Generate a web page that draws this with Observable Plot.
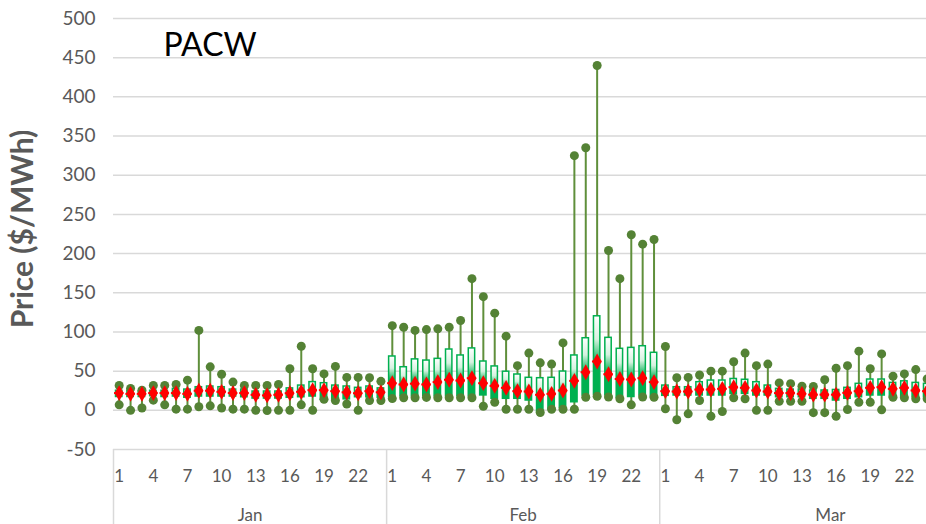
<!DOCTYPE html>
<html><head><meta charset="utf-8">
<script src="https://cdn.jsdelivr.net/npm/d3@7"></script>
<script src="https://cdn.jsdelivr.net/npm/@observablehq/plot@0.6"></script>
<style>
html,body{margin:0;padding:0;background:#fff;overflow:hidden;width:926px;height:524px;}
#chart{position:relative;width:926px;height:524px;overflow:hidden;}
</style></head><body><div id="chart"></div>
<script>
// Categories
const months = ["Jan", "Feb", "Mar"];
const monthDays = [24, 24, 31];          // categories on the axis per month
const tickDays = [1, 4, 7, 10, 13, 16, 19, 22, 25, 28, 31];
const yTicks = [-50, 0, 50, 100, 150, 200, 250, 300, 350, 400, 450, 500];

// Jan
const janMin  = [7, 0, 3, 13, 7, 1.5, 1.5, 4.5, 5.7, 3, 1.5, 1.5, 0, -0.3, 0, 0, 7, 0, 14, 12.5, 8, 0, 12.5, 12.5];
const janQ1   = [17, 17, 17, 18, 17, 17.6, 16, 17.6, 17.6, 17.6, 17.6, 16.7, 15, 15, 15, 16, 16.7, 17.6, 13.4, 12.5, 14, 16.7, 16.7, 16];
const janMean = [22, 21, 21, 22, 22, 22, 21, 25, 25, 23.6, 22, 22, 19.8, 19, 19.8, 21.8, 23.6, 25.7, 25.7, 24.4, 23, 21.8, 24.4, 23];
const janQ3   = [25, 25, 24, 25, 25, 27.4, 26.5, 29.5, 30.4, 29.5, 26.5, 26.5, 24, 24, 24, 28, 31.6, 36, 34.6, 31.6, 30.4, 28.7, 30.4, 28];
const janMax  = [31.6, 28, 25.7, 31.6, 31.6, 33, 38.5, 102, 55.5, 46, 36, 31.6, 31.6, 31.6, 33, 53, 81.8, 53, 46.5, 56, 42, 42, 41.5, 37];

// Feb
const febMin  = [15, 16, 16, 16.5, 16, 16, 16, 16, 5.2, 10.3, 1.4, 1.4, 1.4, -2.8, 1.4, 1.4, 1.4, 16.7, 18, 17, 14.7, 7, 17, 16.7];
const febQ1   = [17, 18, 18, 18, 18, 18, 18, 18, 19, 14.7, 14.7, 14.7, 12.5, -2.4, 1.9, 3, 10.3, 19, 20, 19, 16, 17, 19, 17.6];
const febMean = [34.6, 33, 34, 33, 36, 39, 38, 41, 34.6, 31.2, 28.7, 24.4, 24, 19.8, 21, 25.3, 37.6, 48.6, 62.3, 46, 40, 39.3, 41, 36];
const febQ3   = [68.7, 55, 65, 63.5, 65.7, 77.6, 70, 79, 62.3, 56, 49.3, 45.7, 41.5, 41, 41.5, 49.5, 70, 92, 120, 92.5, 78.5, 79.7, 81.8, 73.4];
const febMax  = [108, 106, 102, 103, 104, 106, 114.6, 168, 145, 124, 94.6, 57, 73, 60.6, 59, 86, 325, 335, 440, 204, 168, 224, 212, 218];

// Mar
const marMin  = [2, -12, -4.5, 12.5, -7.5, -1.5, 16, 14.7, 0, 0, 11.6, 11.6, 11.6, -3, -3, -7.5, 1, 10.3, 10.3, 0.6, 16.7, 16, 14.7, 14.7];
const marQ1   = [18.5, 18.9, 18.9, 18.9, 18.9, 18.9, 21, 21, 18.9, 18.9, 16.7, 16.7, 16.7, 14.7, 14.7, 12.5, 14.7, 16.7, 18.9, 18.9, 16.7, 16.7, 16.7, 16.7];
const marMean = [24.4, 24, 24, 26.5, 26.5, 27.4, 29.5, 28.7, 25.3, 24, 22, 22, 21, 20, 20, 20, 22.3, 24.4, 28.7, 29.5, 27.4, 28.7, 25.3, 24.4];
const marQ3   = [31.6, 29.5, 29.5, 35.9, 38, 38, 40, 39, 35.9, 31.6, 27.4, 26.5, 26.5, 25.3, 25.3, 26, 28.7, 33.8, 39.3, 39.3, 35, 37, 35, 33.8];
const marMax  = [81.4, 41.5, 42, 45, 50, 50, 62, 73, 57, 59, 35, 34, 30.8, 30.5, 39, 53.7, 57, 75.5, 53, 72, 43.5, 46.5, 52, 40];

const series = [
  [janMin, janQ1, janMean, janQ3, janMax],
  [febMin, febQ1, febMean, febQ3, febMax],
  [marMin, marQ1, marMean, marQ3, marMax]
];

// Build category keys and table
const keys = [];
months.forEach((m, i) => { for (let d = 1; d <= monthDays[i]; d++) keys.push(`${m}-${d}`); });
const rows = [];
months.forEach((m, i) => {
  const [mn, q1, me, q3, mx] = series[i];
  mn.forEach((_, j) => rows.push({key: `${m}-${j + 1}`, min: mn[j], q1: q1[j], mean: me[j], q3: q3[j], max: mx[j]}));
});
const tickKeys = keys.filter(k => tickDays.includes(+k.split("-")[1]));
const firstKeys = months.map(m => `${m}-1`);
const midKeys = months.map((m, i) => `${m}-${Math.floor(monthDays[i] / 2)}`);

const marginLeft = 113, width = 1012;
const step = (width - marginLeft) / keys.length;

const chart = Plot.plot({
  width, height: 524,
  marginLeft, marginRight: 0, marginTop: 18, marginBottom: 75,
  style: {fontFamily: "Lato, 'Open Sans', sans-serif", fontSize: "19px", color: "#595959", background: "#fff", maxWidth: "none"},
  x: {type: "band", domain: keys, padding: 0, axis: null},
  y: {domain: [-50, 500], axis: null},
  marks: [
    Plot.gridY(yTicks, {stroke: "#d9d9d9", strokeOpacity: 1, strokeWidth: 1.5}),
    Plot.axisY(yTicks, {tickSize: 0, tickPadding: 18, fontSize: 19, label: null, tickFormat: d => String(d)}),
    Plot.axisX(tickKeys, {tickSize: 0, tickPadding: 20, fontSize: 17, label: null, tickFormat: k => k.split("-")[1]}),
    Plot.ruleX(firstKeys, {x: d => d, dx: -step / 2, insetTop: 431, insetBottom: -75, stroke: "#d9d9d9", strokeWidth: 1.5}),
    Plot.text(months, {x: (d, i) => midKeys[i], dx: step / 2, frameAnchor: "bottom", lineAnchor: "top", dy: 59, fontSize: 17, fill: "#595959"}),
    Plot.ruleX(rows, {x: "key", y1: "min", y2: "max", stroke: "#5f8f3b", strokeWidth: 2}),
    Plot.barY(rows, {x: "key", y1: "q1", y2: "q3", fill: "url(#boxGrad)", stroke: "#00b050", strokeWidth: 1.5, insetLeft: 2.5, insetRight: 2.5}),
    Plot.dot(rows, {x: "key", y: "min", r: 4.5, fill: "#548235"}),
    Plot.dot(rows, {x: "key", y: "max", r: 4.5, fill: "#548235"}),
    Plot.tickY(rows, {x: "key", y: "mean", stroke: "#ff0000", strokeWidth: 2, insetLeft: 1, insetRight: 1}),
    Plot.dot(rows, {x: "key", y: "mean", symbol: "diamond", r: 4.8, fill: "#ff0000"}),
    Plot.text(["PACW"], {frameAnchor: "top-left", dx: 50, dy: 27, lineAnchor: "middle", textAnchor: "start", fontSize: 32, fill: "#000"}),
    Plot.text(["Price ($/MWh)"], {frameAnchor: "left", dx: -90, dy: -5, rotate: -90, textAnchor: "middle", lineAnchor: "middle", fontSize: 30, fontWeight: "bold", fill: "#595959"})
  ]
});

const defs = d3.select(chart).insert("defs", ":first-child");
const grad = defs.append("linearGradient").attr("id", "boxGrad").attr("x1", 0).attr("y1", 0).attr("x2", 0).attr("y2", 1);
grad.append("stop").attr("offset", "0").attr("stop-color", "#ffffff");
grad.append("stop").attr("offset", "0.3").attr("stop-color", "#d6f2e0");
grad.append("stop").attr("offset", "0.6").attr("stop-color", "#00b050");
grad.append("stop").attr("offset", "1").attr("stop-color", "#00b050");

document.getElementById("chart").appendChild(chart);
</script></body></html>
